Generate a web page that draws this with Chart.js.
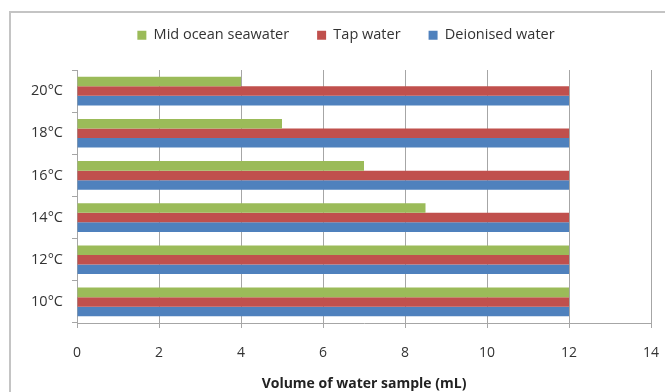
<!DOCTYPE html>
<html>
<head>
<meta charset="utf-8">
<script src="https://cdn.jsdelivr.net/npm/chart.js@4/dist/chart.umd.min.js"></script>
<style>
  html, body { margin: 0; padding: 0; background: #fff; }
  #wrap { width: 665px; height: 392px; }
</style>
</head>
<body>
<div id="wrap"><canvas id="waterChart" width="665" height="392"></canvas></div>
<script>
// data (top to bottom)
const temps = ['20°C', '18°C', '16°C', '14°C', '12°C', '10°C'];
const seawater = [4, 5, 7, 8.5, 12, 12];
const tapWater = [12, 12, 12, 12, 12, 12];
const deionised = [12, 12, 12, 12, 12, 12];
const xTicks = [0, 2, 4, 6, 8, 10, 12, 14];

const FONT = "'Open Sans', 'DejaVu Sans', sans-serif";
const gridGrey = '#a6a6a6';

// outer frame + white background
const framePlugin = {
  id: 'frame',
  beforeDraw(chart) {
    const c = chart.ctx;
    c.save();
    c.fillStyle = '#fff';
    c.fillRect(0, 0, chart.width, chart.height);
    c.strokeStyle = '#c4c4c4';
    c.lineWidth = 2;
    c.beginPath();
    c.moveTo(10, chart.height);
    c.lineTo(10, 12);
    c.lineTo(chart.width, 12);
    c.stroke();
    c.restore();
  }
};

// fixed legend block height so the plot starts where it does in the picture,
// and legend centred a bit right of the canvas middle like the original
const legendBox = {
  id: 'legendBox',
  beforeInit(chart) {
    const fit = chart.legend.fit;
    chart.legend.fit = function () {
      fit.call(this);
      this.height = 70;
    };
  },
  afterLayout(chart) {
    chart.legend.left = 41;
    chart.legend.right = 651;
  }
};

const ctx = document.getElementById('waterChart').getContext('2d');
new Chart(ctx, {
  type: 'bar',
  data: {
    labels: temps,
    datasets: [
      { label: 'Mid ocean seawater', data: seawater, backgroundColor: '#9bbb59' },
      { label: 'Tap water', data: tapWater, backgroundColor: '#c0504d' },
      { label: 'Deionised water', data: deionised, backgroundColor: '#4f81bd' }
    ]
  },
  options: {
    indexAxis: 'y',
    responsive: false,
    animation: false,
    categoryPercentage: 0.68,
    barPercentage: 1.0,
    layout: { padding: { left: 0, right: 14, top: 0, bottom: 0 } },
    plugins: {
      legend: {
        position: 'top',
        labels: {
          boxWidth: 9,
          boxHeight: 9,
          padding: 28,
          color: '#333',
          font: { family: FONT, size: 14.5 }
        }
      },
      tooltip: { enabled: false }
    },
    scales: {
      x: {
        min: 0,
        max: 14,
        afterBuildTicks(scale) { scale.ticks = xTicks.map(v => ({ value: v })); },
        afterFit(scale) {
          scale.height = 69;
          scale.paddingLeft = 0;
          scale.paddingRight = 0;
        },
        grid: { color: gridGrey, tickLength: 5, lineWidth: 1 },
        border: { color: gridGrey },
        ticks: { color: '#333', padding: 17, font: { family: FONT, size: 14 } },
        title: {
          display: true,
          text: 'Volume of water sample (mL)',
          color: '#222',
          font: { family: FONT, size: 14, weight: 'bold' },
          padding: { top: 14, bottom: 0 }
        }
      },
      y: {
        afterFit(scale) { scale.width = 77; },
        grid: { drawOnChartArea: false, color: gridGrey, tickLength: 5 },
        border: { color: gridGrey },
        ticks: { color: '#333', padding: 9, font: { family: FONT, size: 14.5 } }
      }
    }
  },
  plugins: [framePlugin, legendBox]
});
</script>
</body>
</html>
